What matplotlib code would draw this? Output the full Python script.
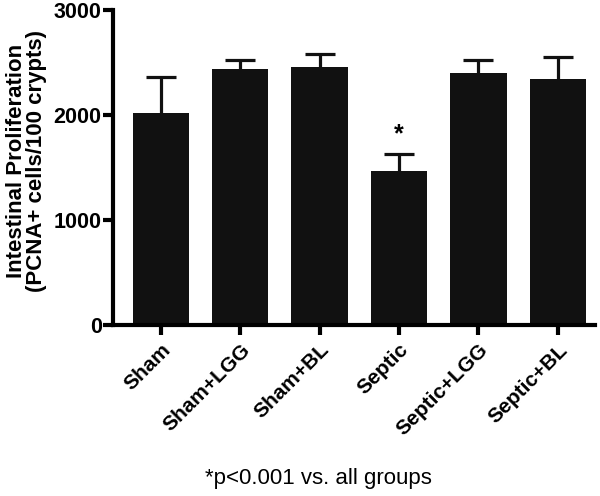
import numpy as np
import matplotlib
matplotlib.use("Agg")
import matplotlib.pyplot as plt

plt.rcParams['font.family'] = ['Liberation Sans', 'DejaVu Sans']

# datos
grupos = ["Sham", "Sham+LGG", "Sham+BL", "Septic", "Septic+LGG", "Septic+BL"]
medias = [2020, 2440, 2455, 1470, 2400, 2340]
sem = [340, 85, 125, 160, 125, 215]
marca = ["", "", "", "*", "", ""]

fig = plt.figure(figsize=(6, 4.96), dpi=100)
ax = fig.add_axes([0.188, 0.345, 0.804, 0.635])

x = np.arange(len(grupos))
ax.bar(x, medias, width=0.71, color="#111111", zorder=2)
_, caps, _ = ax.errorbar(x, medias, yerr=[np.zeros(len(sem)), sem], fmt="none",
                         ecolor="#111111", elinewidth=2.3, capsize=10.5,
                         capthick=2.3, zorder=1)
caps[0].set_visible(False)   # solo la barra superior

# asterisco sobre el grupo significativo
for xi, m, s, t in zip(x, medias, sem, marca):
    if t:
        ax.text(xi, m + s + 70, t, ha="center", va="bottom",
                fontsize=18, fontweight="bold")

ax.set_xlim(-0.605, 5.47)
ax.set_ylim(0, 3000)
ax.set_yticks([0, 1000, 2000, 3000])
ax.set_xticks(x)
ax.set_xticklabels(grupos, rotation=45, ha="right", rotation_mode="anchor",
                   fontsize=15, fontweight="bold")
for lab in ax.get_yticklabels():
    lab.set_fontsize(15.5)
    lab.set_fontweight("bold")

ax.set_ylabel("Intestinal Proliferation\n(PCNA+ cells/100 crypts)",
              fontsize=16, fontweight="bold", linespacing=0.95)
ax.yaxis.set_label_coords(-0.136, 0.52)

for s in ["top", "right"]:
    ax.spines[s].set_visible(False)
for s in ["left", "bottom"]:
    ax.spines[s].set_linewidth(3)
ax.tick_params(axis="both", width=3, length=7, direction="out")
ax.tick_params(axis="y", pad=1)
ax.tick_params(axis="x", pad=4)

fig.text(0.53, 0.015, "*p<0.001 vs. all groups", ha="center", va="bottom",
         fontsize=16)

fig.savefig("out.png", dpi=100)
